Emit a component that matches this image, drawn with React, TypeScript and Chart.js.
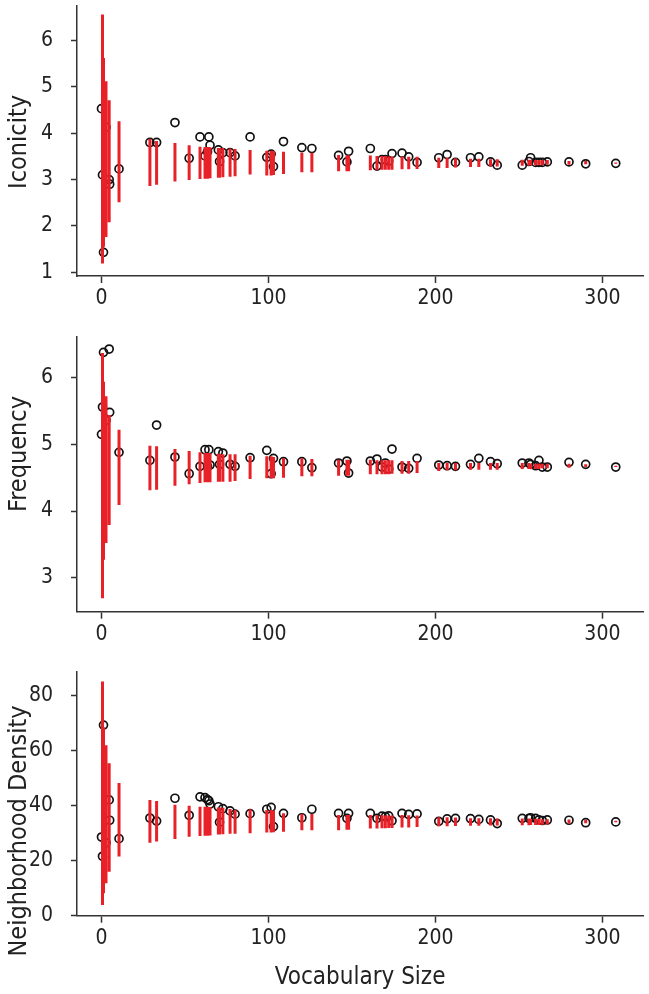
import React, { useEffect, useRef } from 'react';
import { Chart, registerables } from 'chart.js';

Chart.register(...registerables);

// ---- data ----
const vocabularySize = [
  0, 0.6, 1.2, 2.7, 4.6, 4.9, 10.5, 29, 33, 44, 52.5, 59, 62, 63.5, 64.3, 65, 70, 70.7, 72.7, 77, 80, 89,
  99, 101.6, 103, 109, 120, 126, 142, 147, 148, 161, 165, 168, 170, 172, 174, 180, 184, 189, 202, 207, 212,
  221, 226, 233, 237, 252, 256, 257, 260, 262, 264, 267, 280, 290, 308,
];

const iconicity = [
  4.53, 3.1, 1.43, 4.13, 3.0, 2.9, 3.23, 3.8, 3.8, 4.23, 3.46, 3.92, 3.51, 3.6, 3.92, 3.74, 3.64, 3.39, 3.58, 3.58, 3.51, 3.92,
  3.48, 3.55, 3.28, 3.82, 3.69, 3.67, 3.52, 3.38, 3.61, 3.67, 3.29, 3.43, 3.43, 3.4, 3.56, 3.57, 3.49, 3.37, 3.47, 3.54, 3.37,
  3.47, 3.49, 3.38, 3.31, 3.31, 3.39, 3.47, 3.37, 3.37, 3.37, 3.38, 3.38, 3.34, 3.35,
];
const iconicityLow = [
  null, 1.19, 1.55, 1.76, 2.08, null, 2.51, 2.86, 2.89, 2.96, 2.99, 3.01, 3.02, 3.02, 3.03, 3.03, 3.04, 3.04, 3.05, 3.06, 3.07, 3.11,
  3.09, 3.09, 3.1, 3.12, 3.16, 3.16, 3.18, 3.18, 3.18, 3.2, 3.2, 3.21, 3.21, 3.21, 3.21, 3.22, 3.22, 3.23, 3.25, 3.25, 3.26,
  3.27, 3.27, 3.28, 3.28, 3.3, 3.3, 3.31, 3.31, 3.31, 3.31, 3.32, 3.32, 3.33, 3.34,
];
const iconicityHigh = [
  null, 6.56, 5.62, 5.12, 4.71, null, 4.26, 3.88, 3.83, 3.79, 3.74, 3.71, 3.7, 3.7, 3.7, 3.69, 3.68, 3.68, 3.68, 3.67, 3.66, 3.64,
  3.62, 3.62, 3.61, 3.6, 3.58, 3.58, 3.53, 3.52, 3.52, 3.52, 3.51, 3.51, 3.51, 3.5, 3.5, 3.5, 3.49, 3.49, 3.47, 3.47, 3.46,
  3.45, 3.45, 3.44, 3.44, 3.43, 3.43, 3.43, 3.42, 3.42, 3.42, 3.42, 3.4, 3.4, 3.37,
];

const frequency = [
  5.15, 5.56, 6.38, 5.36, 6.43, 5.48, 4.88, 4.76, 5.29, 4.81, 4.56, 4.67, 4.92, 4.67, 4.92, 4.69, 4.89, 4.7, 4.87, 4.7, 4.67, 4.8,
  4.91, 4.56, 4.79, 4.74, 4.74, 4.65, 4.72, 4.75, 4.57, 4.75, 4.78, 4.66, 4.72, 4.63, 4.93, 4.66, 4.64, 4.79, 4.69, 4.68, 4.67,
  4.7, 4.79, 4.74, 4.71, 4.72, 4.72, 4.7, 4.68, 4.76, 4.66, 4.66, 4.73, 4.7, 4.66,
];
const frequencyLow = [
  null, 2.69, 3.27, 3.52, 3.79, null, 4.09, 4.31, 4.32, 4.38, 4.4, 4.42, 4.43, 4.43, 4.43, 4.43, 4.44, 4.44, 4.44, 4.44, 4.45, 4.48,
  4.49, 4.49, 4.49, 4.5, 4.52, 4.52, 4.53, 4.53, 4.53, 4.55, 4.55, 4.55, 4.55, 4.55, 4.56, 4.56, 4.56, 4.57, 4.6, 4.61, 4.61,
  4.62, 4.62, 4.62, 4.62, 4.63, 4.63, 4.63, 4.63, 4.63, 4.64, 4.64, 4.65, 4.66, 4.66,
];
const frequencyHigh = [
  null, 6.37, 5.94, 5.72, 5.44, null, 5.22, 4.98, 4.97, 4.93, 4.9, 4.88, 4.87, 4.87, 4.87, 4.86, 4.86, 4.86, 4.85, 4.85, 4.85, 4.83,
  4.82, 4.82, 4.81, 4.79, 4.79, 4.78, 4.77, 4.77, 4.77, 4.77, 4.76, 4.76, 4.76, 4.76, 4.76, 4.75, 4.75, 4.75, 4.72, 4.72, 4.72,
  4.72, 4.72, 4.72, 4.72, 4.72, 4.72, 4.71, 4.71, 4.71, 4.71, 4.71, 4.71, 4.7, 4.68,
];

const density = [
  28.6, 21.6, 69.3, 26.5, 42.1, 34.7, 28.0, 35.5, 34.4, 42.7, 36.5, 43.2, 42.9, 42.2, 41.8, 40.6, 39.6, 34.0, 38.9, 38.1, 36.9, 37.1,
  38.7, 39.4, 32.4, 37.2, 35.6, 38.7, 37.2, 35.4, 37.2, 37.2, 35.4, 36.2, 36.0, 36.3, 34.5, 37.2, 36.8, 37.0, 34.3, 35.2, 35.4,
  35.3, 35.0, 34.8, 33.5, 35.4, 35.4, 35.6, 35.4, 34.8, 34.6, 34.8, 34.7, 33.8, 34.1,
];
const densityLow = [
  null, 3.9, 8.2, 11.8, 16.0, null, 21.5, 26.5, 27.0, 27.9, 28.7, 29.0, 29.1, 29.1, 29.2, 29.2, 29.5, 29.5, 29.6, 29.8, 29.8, 30.0,
  30.2, 30.2, 30.3, 30.5, 31.1, 31.1, 31.1, 31.2, 31.2, 31.7, 31.7, 31.8, 31.8, 31.9, 31.9, 32.1, 32.1, 32.2, 32.5, 32.5, 32.6,
  32.7, 32.7, 32.8, 32.8, 32.9, 32.9, 33.0, 33.0, 33.0, 33.1, 33.1, 33.5, 33.6, 34.0,
];
const densityHigh = [
  null, 85.1, 68.5, 62.0, 55.4, null, 48.2, 42.1, 41.7, 40.3, 40.0, 39.6, 39.6, 39.5, 39.5, 39.4, 39.3, 39.3, 39.2, 38.8, 38.4, 38.7,
  38.4, 38.4, 38.2, 37.2, 37.0, 37.0, 36.6, 36.6, 36.6, 36.6, 36.5, 36.5, 36.4, 36.4, 36.4, 36.6, 36.5, 36.4, 35.8, 35.8, 35.7,
  35.4, 35.4, 35.4, 35.3, 35.3, 35.3, 35.2, 35.2, 35.2, 35.1, 35.1, 35.0, 34.8, 34.5,
];

const xTicks = [0, 100, 200, 300];
const iconicityTicks = [1, 2, 3, 4, 5, 6];
const frequencyTicks = [3, 4, 5, 6];
const densityTicks = [0, 20, 40, 60, 80];

// ---- styling ----
const FONT = "'Liberation Sans Narrow', 'Arial Narrow', 'DejaVu Sans Condensed', sans-serif";
const AXIS = '#333333';
const TEXT = '#222222';
const RED = 'rgb(232, 32, 40)';
const X_MIN = -14.67;
const X_MAX = 324.5;

type PanelProps = {
  top: number;
  height: number;
  padTop: number;
  xAxisHeight: number;
  yTitle: string;
  yTitleCenter: number;
  yMin: number;
  yMax: number;
  yTicks: number[];
  values: number[];
  low: (number | null)[];
  high: (number | null)[];
  showXTitle: boolean;
};

function Panel(props: PanelProps) {
  const ref = useRef<HTMLCanvasElement | null>(null);
  useEffect(() => {
    if (!ref.current) return;
    const points = vocabularySize.map((x, i) => ({ x, y: props.values[i] }));
    const segs: { x: number; y: number | null }[] = [];
    vocabularySize.forEach((x, i) => {
      const lo = props.low[i];
      const hi = props.high[i];
      if (lo == null || hi == null) return;
      segs.push({ x, y: lo }, { x, y: hi }, { x, y: null });
    });
    const yTitlePlugin = {
      id: 'yTitle',
      afterDraw(chart: any) {
        const ctx = chart.ctx;
        ctx.save();
        ctx.translate(19, props.yTitleCenter - props.top);
        ctx.rotate(-Math.PI / 2);
        ctx.textAlign = 'center';
        ctx.textBaseline = 'middle';
        ctx.fillStyle = TEXT;
        ctx.font = `25px ${FONT}`;
        ctx.fillText(props.yTitle, 0, 0);
        ctx.restore();
      },
    };
    const chart = new Chart(ref.current, {
      type: 'scatter',
      data: {
        datasets: [
          {
            data: segs as any,
            showLine: true,
            spanGaps: false,
            borderColor: RED,
            borderWidth: 3,
            borderCapStyle: 'butt',
            pointRadius: 0,
            pointHoverRadius: 0,
            order: 0,
          } as any,
          {
            data: points,
            pointRadius: 4,
            pointHoverRadius: 4,
            pointBorderWidth: 1.7,
            pointBorderColor: '#111111',
            pointBackgroundColor: 'rgba(0,0,0,0)',
            order: 1,
          } as any,
        ],
      },
      options: {
        animation: false,
        responsive: false,
        maintainAspectRatio: false,
        events: [],
        layout: { padding: { top: props.padTop, right: 1, left: 0, bottom: 0 } },
        plugins: { legend: { display: false }, tooltip: { enabled: false } },
        scales: {
          x: {
            type: 'linear',
            min: X_MIN,
            max: X_MAX,
            afterBuildTicks: (s: any) => {
              s.ticks = xTicks.map((v) => ({ value: v }));
            },
            afterFit: (s: any) => {
              s.height = props.xAxisHeight;
              s.paddingLeft = 0;
              s.paddingRight = 0;
            },
            grid: {
              display: true,
              drawOnChartArea: false,
              drawTicks: true,
              tickLength: 7,
              tickColor: AXIS,
              tickWidth: 1.5,
            },
            border: { display: true, color: AXIS, width: 1.5 },
            ticks: { font: { family: FONT, size: 21 }, color: TEXT, padding: 3, maxRotation: 0, autoSkip: false },
            title: {
              display: props.showXTitle,
              text: 'Vocabulary Size',
              font: { family: FONT, size: 24 },
              color: TEXT,
              padding: { top: 0, bottom: 2 },
            },
          },
          y: {
            type: 'linear',
            min: props.yMin,
            max: props.yMax,
            afterBuildTicks: (s: any) => {
              s.ticks = props.yTicks.map((v) => ({ value: v }));
            },
            afterFit: (s: any) => {
              s.width = 77;
              s.paddingTop = 0;
              s.paddingBottom = 0;
            },
            grid: {
              display: true,
              drawOnChartArea: false,
              drawTicks: true,
              tickLength: 6,
              tickColor: AXIS,
              tickWidth: 1.5,
            },
            border: { display: true, color: AXIS, width: 1.5 },
            ticks: { font: { family: FONT, size: 21 }, color: TEXT, padding: 18, autoSkip: false },
            title: { display: false },
          },
        },
      } as any,
      plugins: [yTitlePlugin],
    });
    return () => chart.destroy();
  }, []);
  return (
    <canvas
      ref={ref}
      width={649}
      height={props.height}
      style={{ position: 'absolute', left: 0, top: props.top, width: 649, height: props.height, display: 'block' }}
    />
  );
}

export default function App() {
  return (
    <div style={{ position: 'absolute', left: 0, top: 0, width: 649, height: 994, background: '#ffffff' }}>
      <Panel
        top={0}
        height={320}
        padTop={4}
        xAxisHeight={44}
        yTitle="Iconicity"
        yTitleCenter={142}
        yMin={0.92}
        yMax={6.75}
        yTicks={iconicityTicks}
        values={iconicity}
        low={iconicityLow}
        high={iconicityHigh}
        showXTitle={false}
      />
      <Panel
        top={330}
        height={320}
        padTop={6.7}
        xAxisHeight={38.3}
        yTitle="Frequency"
        yTitleCenter={454}
        yMin={2.49}
        yMax={6.615}
        yTicks={frequencyTicks}
        values={frequency}
        low={frequencyLow}
        high={frequencyHigh}
        showXTitle={false}
      />
      <Panel
        top={660}
        height={334}
        padTop={11.7}
        xAxisHeight={78.3}
        yTitle="Neighborhood Density"
        yTitleCenter={831}
        yMin={0}
        yMax={88.7}
        yTicks={densityTicks}
        values={density}
        low={densityLow}
        high={densityHigh}
        showXTitle={true}
      />
    </div>
  );
}
